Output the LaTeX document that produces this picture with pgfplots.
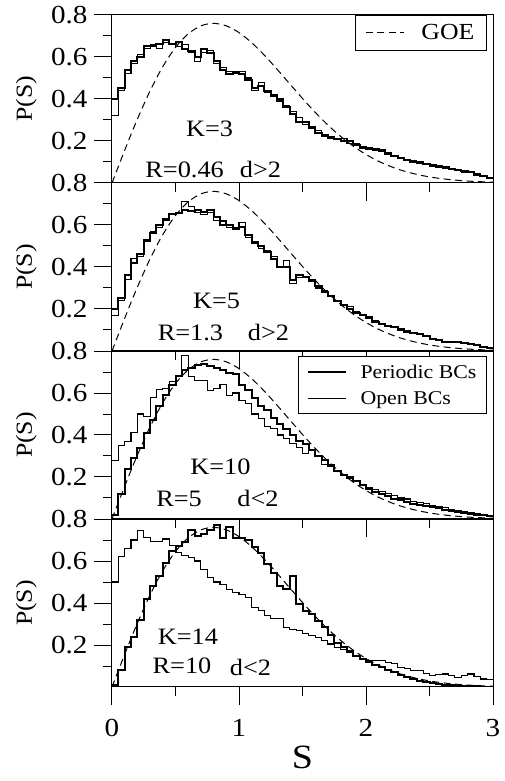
\documentclass[border=0pt]{standalone}
\usepackage{pgfplots}
\pgfplotsset{compat=1.18}
\usepackage{pgfplotstable}
\usepackage{fontspec}
\setmainfont{Liberation Serif}[FakeStretch=1.12]

\pgfplotstableread{
s p
0.00 0.0
0.05 0.07839
0.10 0.15585
0.15 0.23149
0.20 0.30444
0.30 0.43908
0.40 0.55412
0.50 0.64538
0.60 0.71035
0.70 0.74832
0.80 0.76016
0.90 0.74831
1.00 0.71620
1.10 0.66802
1.20 0.60831
1.30 0.54155
1.40 0.47173
1.50 0.40246
1.60 0.33653
1.70 0.27593
1.80 0.22193
1.90 0.17519
2.00 0.13576
2.10 0.10331
2.20 0.07720
2.30 0.05668
2.40 0.04090
2.50 0.02900
2.60 0.02021
2.70 0.01384
2.80 0.00932
2.90 0.00617
3.00 0.00401
}\goe

\pgfplotstableread{
s per op
0.00 0.40 0.32
0.05 0.45 0.44
0.10 0.54 0.52
0.15 0.58 0.57
0.20 0.60 0.61
0.25 0.65 0.64
0.30 0.65 0.66
0.35 0.66 0.64
0.40 0.68 0.67
0.45 0.66 0.66
0.50 0.67 0.65
0.55 0.64 0.66
0.60 0.63 0.62
0.65 0.60 0.58
0.70 0.64 0.62
0.75 0.62 0.63
0.80 0.58 0.57
0.85 0.54 0.55
0.90 0.52 0.53
0.95 0.53 0.52
1.00 0.52 0.53
1.05 0.49 0.50
1.10 0.45 0.44
1.15 0.46 0.48
1.20 0.44 0.43
1.25 0.42 0.41
1.30 0.39 0.40
1.35 0.36 0.37
1.40 0.33 0.34
1.45 0.29 0.31
1.50 0.29 0.28
1.55 0.26 0.27
1.60 0.24 0.25
1.65 0.23 0.22
1.70 0.22 0.21
1.75 0.21 0.21
1.80 0.20 0.21
1.85 0.20 0.19
1.90 0.18 0.19
1.95 0.17 0.165
2.00 0.165 0.16
2.05 0.16 0.155
2.10 0.155 0.15
2.15 0.14 0.145
2.20 0.13 0.125
2.25 0.12 0.12
2.30 0.11 0.105
2.35 0.10 0.105
2.40 0.10 0.095
2.45 0.09 0.09
2.50 0.085 0.08
2.55 0.08 0.075
2.60 0.075 0.07
2.65 0.065 0.065
2.70 0.06 0.06
2.75 0.055 0.05
2.80 0.05 0.05
2.85 0.04 0.045
2.90 0.035 0.035
2.95 0.025 0.028
3.00 0.02 0.025
}\panelA

\pgfplotstableread{
s per op
0.00 0.20 0.17
0.05 0.25 0.24
0.10 0.36 0.34
0.15 0.42 0.44
0.20 0.46 0.45
0.25 0.53 0.52
0.30 0.56 0.57
0.35 0.60 0.59
0.40 0.63 0.62
0.45 0.65 0.65
0.50 0.655 0.66
0.55 0.67 0.71
0.60 0.665 0.69
0.65 0.67 0.66
0.70 0.66 0.65
0.75 0.67 0.66
0.80 0.64 0.62
0.85 0.62 0.60
0.90 0.60 0.59
0.95 0.58 0.59
1.00 0.59 0.61
1.05 0.55 0.54
1.10 0.52 0.51
1.15 0.50 0.49
1.20 0.47 0.48
1.25 0.44 0.45
1.30 0.40 0.40
1.35 0.40 0.43
1.40 0.34 0.32
1.45 0.36 0.35
1.50 0.35 0.35
1.55 0.34 0.33
1.60 0.31 0.30
1.65 0.28 0.29
1.70 0.26 0.26
1.75 0.24 0.24
1.80 0.22 0.22
1.85 0.20 0.21
1.90 0.18 0.19
1.95 0.17 0.17
2.00 0.16 0.155
2.05 0.14 0.145
2.10 0.13 0.13
2.15 0.12 0.12
2.20 0.115 0.11
2.25 0.10 0.105
2.30 0.09 0.095
2.35 0.085 0.085
2.40 0.08 0.08
2.45 0.07 0.07
2.50 0.055 0.06
2.55 0.05 0.05
2.60 0.045 0.045
2.65 0.045 0.04
2.70 0.042 0.045
2.75 0.04 0.04
2.80 0.035 0.035
2.85 0.03 0.03
2.90 0.02 0.022
2.95 0.015 0.015
3.00 0.01 0.01
}\panelB

\pgfplotstableread{
s per op
0.00 0.02 0.28
0.05 0.12 0.35
0.10 0.24 0.37
0.15 0.29 0.41
0.20 0.34 0.50
0.25 0.41 0.49
0.30 0.47 0.58
0.35 0.54 0.615
0.40 0.59 0.62
0.45 0.64 0.655
0.50 0.68 0.68
0.55 0.71 0.78
0.60 0.72 0.68
0.65 0.735 0.66
0.70 0.74 0.66
0.75 0.73 0.61
0.80 0.72 0.62
0.85 0.71 0.64
0.90 0.695 0.59
0.95 0.69 0.60
1.00 0.64 0.565
1.05 0.615 0.55
1.10 0.575 0.50
1.15 0.54 0.48
1.20 0.52 0.44
1.25 0.48 0.43
1.30 0.45 0.40
1.35 0.43 0.385
1.40 0.40 0.36
1.45 0.37 0.34
1.50 0.355 0.31
1.55 0.33 0.33
1.60 0.30 0.30
1.65 0.28 0.26
1.70 0.255 0.25
1.75 0.23 0.23
1.80 0.21 0.21
1.85 0.195 0.20
1.90 0.18 0.185
1.95 0.16 0.165
2.00 0.145 0.15
2.05 0.13 0.14
2.10 0.12 0.13
2.15 0.11 0.12
2.20 0.097 0.11
2.25 0.09 0.10
2.30 0.08 0.095
2.35 0.072 0.085
2.40 0.065 0.08
2.45 0.06 0.072
2.50 0.055 0.065
2.55 0.05 0.06
2.60 0.045 0.055
2.65 0.038 0.045
2.70 0.033 0.04
2.75 0.028 0.035
2.80 0.025 0.03
2.85 0.02 0.025
2.90 0.017 0.02
2.95 0.012 0.015
3.00 0.01 0.012
}\panelC

\pgfplotstableread{
s per op
0.00 0.01 0.50
0.05 0.08 0.62
0.10 0.19 0.66
0.15 0.24 0.70
0.20 0.32 0.745
0.25 0.42 0.71
0.30 0.48 0.695
0.35 0.53 0.695
0.40 0.59 0.705
0.45 0.65 0.675
0.50 0.67 0.64
0.55 0.69 0.625
0.60 0.75 0.615
0.65 0.72 0.60
0.70 0.73 0.56
0.75 0.75 0.52
0.80 0.77 0.50
0.85 0.71 0.49
0.90 0.76 0.465
0.95 0.71 0.45
1.00 0.71 0.44
1.05 0.70 0.425
1.10 0.665 0.38
1.15 0.64 0.365
1.20 0.585 0.34
1.25 0.545 0.325
1.30 0.48 0.325
1.35 0.465 0.285
1.40 0.53 0.275
1.45 0.395 0.27
1.50 0.36 0.255
1.55 0.35 0.245
1.60 0.315 0.237
1.65 0.285 0.22
1.70 0.25 0.205
1.75 0.21 0.19
1.80 0.19 0.18
1.85 0.17 0.165
1.90 0.15 0.15
1.95 0.133 0.135
2.00 0.117 0.125
2.05 0.105 0.125
2.10 0.094 0.125
2.15 0.082 0.115
2.20 0.07 0.11
2.25 0.058 0.095
2.30 0.046 0.086
2.35 0.038 0.08
2.40 0.03 0.078
2.45 0.025 0.065
2.50 0.02 0.054
2.55 0.015 0.058
2.60 0.011 0.062
2.65 0.008 0.055
2.70 0.006 0.046
2.75 0.005 0.055
2.80 0.004 0.062
2.85 0.003 0.05
2.90 0.002 0.038
2.95 0.002 0.035
3.00 0.002 0.038
}\panelD

\tikzset{ann/.style={font=\fontsize{23.5}{23.5}\selectfont, anchor=base}}

\pgfplotsset{
  panel/.style={
    scale only axis, width=381pt, height=168pt,
    xmin=0, xmax=3, ymin=0, ymax=0.8,
    xtick={0,1,2,3}, minor xtick={0.5,1.5,2.5},
    ytick={0.2,0.4,0.6,0.8}, minor ytick={0.1,0.3,0.5,0.7},
    xtick pos=bottom, ytick pos=left,
    tick align=outside,
    major tick length=18pt, minor tick length=9pt,
    every tick/.style={black, line width=1pt},
    axis line style={line width=1pt},
    /pgf/number format/assume math mode=true,
    tick label style={font=\fontsize{26}{26}\selectfont},
    xticklabel style={yshift=-11pt},
    yticklabel style={xshift=-3pt},
    ylabel={P(S)},
    ylabel style={at={(axis description cs:-0.225,0.5)}, anchor=center, font=\fontsize{23}{23}\selectfont},
    anchor=south west,
  },
  goe/.style={black, line width=1pt, dash pattern=on 7pt off 4.5pt, smooth},
  per/.style={black, line width=2pt, const plot},
  opn/.style={black, line width=1.1pt, const plot},
  legend image code/.code={\draw[#1] (0pt,0pt) -- (38pt,0pt);},
}

\begin{document}
\begin{tikzpicture}
\useasboundingbox (0,0) rectangle (505pt,781pt);

% Panel 1
\begin{axis}[panel, at={(112pt,598pt)}, xticklabels={},
  legend style={at={(0.984,1)}, anchor=north east, draw=black, line width=1pt,
    font=\fontsize{23}{23}\selectfont, inner xsep=10pt, inner ysep=7pt,
    /tikz/every odd column/.append style={column sep=15pt}}]
\addplot[per, forget plot] table[x=s, y=per] {\panelA};
\addplot[opn, forget plot] table[x=s, y=op] {\panelA};
\addplot[goe] table[x=s, y=p] {\goe};
\addlegendentry{GOE}
\node[ann] at (axis cs:0.768,0.22) {K=3};
\node[ann] at (axis cs:0.572,0.028) {R=0.46};
\node[ann] at (axis cs:1.169,0.028) {d>2};
\end{axis}

% Panel 2
\begin{axis}[panel, at={(112pt,430pt)}, xticklabels={}]
\addplot[per] table[x=s, y=per] {\panelB};
\addplot[opn] table[x=s, y=op] {\panelB};
\addplot[goe] table[x=s, y=p] {\goe};
\node[ann] at (axis cs:0.823,0.20) {K=5};
\node[ann] at (axis cs:0.618,0.052) {R=1.3};
\node[ann] at (axis cs:1.232,0.052) {d>2};
\end{axis}

% Panel 3
\begin{axis}[panel, at={(112pt,262pt)}, xticklabels={},
  legend style={at={(0.984,0.97)}, anchor=north east, draw=black, line width=1pt,
    font=\fontsize{19.5}{19.5}\selectfont, inner xsep=8pt, inner ysep=6pt, row sep=8pt,
    cells={anchor=west}, /tikz/every odd column/.append style={column sep=12pt}}]
\addplot[per] table[x=s, y=per] {\panelC};
\addlegendentry{Periodic BCs}
\addplot[opn] table[x=s, y=op] {\panelC};
\addlegendentry{Open BCs}
\addplot[goe, forget plot] table[x=s, y=p] {\goe};
\node[ann] at (axis cs:0.854,0.211) {K=10};
\node[ann] at (axis cs:0.528,0.060) {R=5};
\node[ann] at (axis cs:1.15,0.060) {d<2};
\end{axis}

% Panel 4
\begin{axis}[panel, at={(112pt,94pt)},
  xlabel={S},
  xlabel style={at={(axis description cs:0.5,-0.417)}, anchor=center, font=\fontsize{34}{34}\selectfont}]
\addplot[per] table[x=s, y=per] {\panelD};
\addplot[opn] table[x=s, y=op] {\panelD};
\addplot[goe] table[x=s, y=p] {\goe};
\node[ann] at (axis cs:0.598,0.201) {K=14};
\node[ann] at (axis cs:0.551,0.062) {R=10};
\node[ann] at (axis cs:1.09,0.055) {d<2};
\end{axis}
\end{tikzpicture}
\end{document}
